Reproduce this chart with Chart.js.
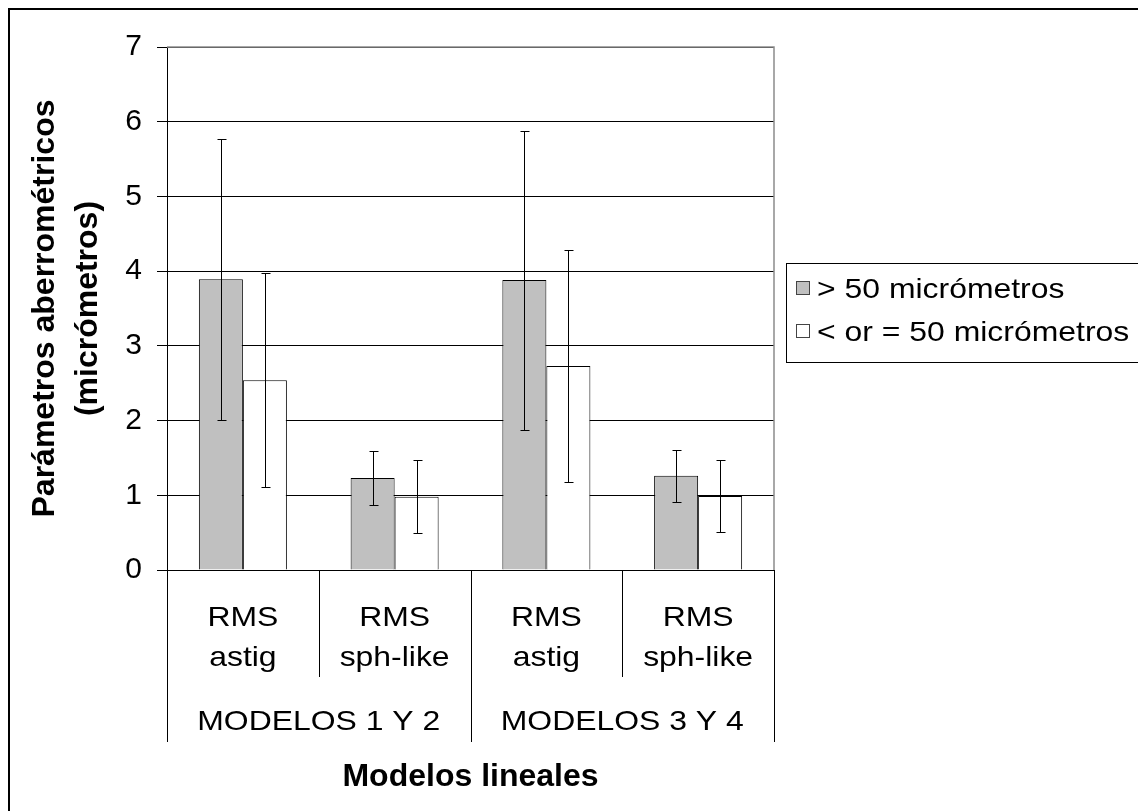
<!DOCTYPE html>
<html>
<head>
<meta charset="utf-8">
<title>Parámetros aberrométricos</title>
<script src="https://cdn.jsdelivr.net/npm/chart.js@4.4.0/dist/chart.umd.min.js"></script>
<style>
  html, body { margin: 0; padding: 0; background: #fff; }
  #wrap { width: 1138px; height: 811px; }
</style>
</head>
<body>
<div id="wrap"><canvas id="chart" width="1138" height="811"></canvas></div>
<script>
// categories (two text lines each) and the model groups below them
const categories = [['RMS', 'astig'], ['RMS', 'sph-like'], ['RMS', 'astig'], ['RMS', 'sph-like']];
const groups = ['MODELOS 1 Y 2', 'MODELOS 3 Y 4'];
const seriesNames = ['> 50 micrómetros', '< or = 50 micrómetros'];

// means and standard deviations, in micrometres
const over50 = [3.89, 1.23, 3.88, 1.26];
const over50Sd = [1.88, 0.36, 2.00, 0.35];
const upTo50 = [2.54, 0.98, 2.73, 0.99];
const upTo50Sd = [1.43, 0.49, 1.55, 0.48];

const yMin = 0;
const yMax = 7;
const yStep = 1;

const FONT = "'Liberation Sans', Arial, Helvetica, sans-serif";
const seriesColors = ['#c0c0c0', '#ffffff'];
const TEXT_STRETCH = 1.14;

// regular text is drawn slightly widened, like the old office renderer did
function wideText(ctx, text, x, y) {
    ctx.save();
    ctx.translate(x, y);
    ctx.scale(TEXT_STRETCH, 1);
    ctx.fillText(text, 0, 0);
    ctx.restore();
}

const chartDecor = {
    id: 'chartDecor',
    afterDatasetsDraw(chart) {
        const { ctx, chartArea, scales } = chart;
        const y = scales.y;

        // error bars (mean +/- sd)
        ctx.save();
        ctx.strokeStyle = '#000';
        ctx.lineWidth = 1;
        chart.data.datasets.forEach((ds, di) => {
            const meta = chart.getDatasetMeta(di);
            meta.data.forEach((bar, i) => {
                const x = Math.round(bar.x) + 0.5;
                const top = Math.round(y.getPixelForValue(ds.data[i] + ds.sd[i])) + 0.5;
                const bot = Math.round(y.getPixelForValue(ds.data[i] - ds.sd[i])) + 0.5;
                ctx.beginPath();
                ctx.moveTo(x, top);
                ctx.lineTo(x, bot);
                ctx.moveTo(x - 4, top);
                ctx.lineTo(x + 5, top);
                ctx.moveTo(x - 4, bot);
                ctx.lineTo(x + 5, bot);
                ctx.stroke();
            });
        });

        // plot area frame on the top and right
        ctx.strokeStyle = '#8c8c8c';
        ctx.lineWidth = 1.5;
        ctx.beginPath();
        ctx.moveTo(chartArea.left, chartArea.top);
        ctx.lineTo(chartArea.right, chartArea.top);
        ctx.lineTo(chartArea.right, chartArea.bottom);
        ctx.stroke();
        ctx.restore();
    },
    afterDraw(chart) {
        const { ctx, chartArea, scales } = chart;
        const x = scales.x;
        const half = (x.getPixelForValue(1) - x.getPixelForValue(0)) / 2;

        ctx.save();
        // category / group dividers below the axis
        ctx.strokeStyle = '#000';
        ctx.lineWidth = 1;
        for (let i = 0; i <= categories.length; i++) {
            const px = Math.round(x.getPixelForValue(i) - half) + 0.5;
            const len = i % 2 === 0 ? 172 : 107;
            ctx.beginPath();
            ctx.moveTo(px, chartArea.bottom);
            ctx.lineTo(px, chartArea.bottom + len);
            ctx.stroke();
        }

        ctx.fillStyle = '#000';
        ctx.textAlign = 'center';
        ctx.textBaseline = 'middle';
        ctx.font = `28px ${FONT}`;

        // category labels, two lines each
        categories.forEach((lines, i) => {
            const cx = x.getPixelForValue(i);
            lines.forEach((line, li) => wideText(ctx, line, cx, 618 + li * 40));
        });

        groups.forEach((g, gi) => {
            const cx = x.getPixelForValue(gi * 2 + 1) - half;
            wideText(ctx, g, cx, 722);
        });

        // axis titles
        ctx.font = `bold 32px ${FONT}`;
        ctx.fillText('Modelos lineales', (chartArea.left + chartArea.right) / 2, 777);

        ctx.save();
        ctx.translate(0, (chartArea.top + chartArea.bottom) / 2);
        ctx.rotate(-Math.PI / 2);
        ctx.fillText('Parámetros aberrométricos', 0, 45);
        ctx.fillText('(micrómetros)', 0, 88);
        ctx.restore();

        // legend
        ctx.strokeStyle = '#000';
        ctx.lineWidth = 1;
        ctx.strokeRect(786.5, 263.5, 400, 99);
        ctx.font = `28px ${FONT}`;
        ctx.textAlign = 'left';
        const rows = [288, 331];
        seriesNames.forEach((name, i) => {
            ctx.fillStyle = seriesColors[i];
            ctx.fillRect(796, rows[i] - 7, 14, 14);
            ctx.strokeStyle = '#444';
            ctx.strokeRect(796.5, rows[i] - 6.5, 13, 13);
            ctx.fillStyle = '#000';
            wideText(ctx, name, 817, rows[i] + 2);
        });

        // outer frame
        ctx.strokeStyle = '#000';
        ctx.lineWidth = 2;
        ctx.beginPath();
        ctx.moveTo(9, 900);
        ctx.lineTo(9, 9);
        ctx.lineTo(1200, 9);
        ctx.stroke();
        ctx.restore();
    }
};

new Chart(document.getElementById('chart'), {
    type: 'bar',
    data: {
        labels: categories,
        datasets: [
            {
                label: seriesNames[0],
                data: over50,
                sd: over50Sd,
                backgroundColor: seriesColors[0],
                borderColor: '#000',
                borderWidth: 1
            },
            {
                label: seriesNames[1],
                data: upTo50,
                sd: upTo50Sd,
                backgroundColor: seriesColors[1],
                borderColor: '#000',
                borderWidth: 1
            }
        ]
    },
    options: {
        responsive: false,
        animation: false,
        categoryPercentage: 0.58,
        barPercentage: 1,
        layout: { padding: { top: 47, right: 364, left: 0, bottom: 0 } },
        plugins: {
            legend: { display: false },
            tooltip: { enabled: false }
        },
        scales: {
            x: {
                grid: { display: false },
                border: { display: false },
                ticks: { display: false },
                afterFit: (scale) => { scale.height = 241; }
            },
            y: {
                min: yMin,
                max: yMax,
                ticks: {
                    stepSize: yStep,
                    color: '#000',
                    font: { family: FONT, size: 30 },
                    padding: 15
                },
                grid: { color: '#000', lineWidth: 1, tickLength: 10 },
                border: { color: '#000', width: 1 },
                afterFit: (scale) => { scale.width = 167; }
            }
        }
    },
    plugins: [chartDecor]
});
</script>
</body>
</html>
